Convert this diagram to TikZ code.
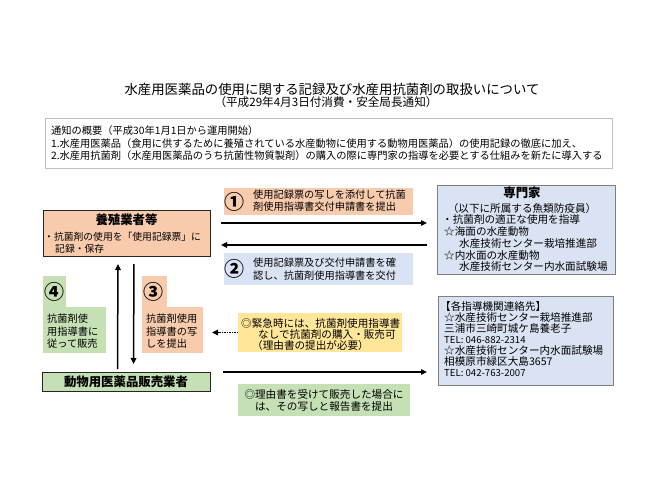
\documentclass[tikz,border=0pt]{standalone}
\usepackage{fontspec}
\setmainfont{Noto Sans CJK JP}
\usetikzlibrary{arrows.meta,calc}
\definecolor{orangeA}{HTML}{F8CBAD}
\definecolor{greenA}{HTML}{C5E0B4}
\definecolor{blueA}{HTML}{DAE3F3}
\definecolor{yellowA}{HTML}{FFE699}
\definecolor{grayA}{HTML}{7F7F7F}
\definecolor{grayB}{HTML}{BFBFBF}
\tikzset{
  txt/.style={font=\fontsize{10.2}{12.5}\selectfont, inner sep=0pt, anchor=west, align=left},
  txtb/.style={txt, font=\fontsize{10.6}{12}\selectfont},
  bx/.style={anchor=north west, inner sep=0pt, outer sep=0pt},
  numc/.style={font=\fontsize{20}{20}\selectfont\bfseries, inner sep=0pt},
  arr/.style={-{Triangle[length=6pt,width=5.5pt]}, line width=1.5pt},
  head/.style={font=\fontsize{12.4}{14}\selectfont\bfseries, inner sep=0pt},
}
\begin{document}
\begin{tikzpicture}[x={(1pt,0)}, y={(0,-1pt)}]
\useasboundingbox (0,0) rectangle (650,487);
\fill[white] (0,0) rectangle (650,487);

% title
\node[font=\fontsize{13.4}{16}\selectfont, inner sep=0pt] (title) at (332,89) {水産用医薬品の使用に関する記録及び水産用抗菌剤の取扱いについて};
\node[font=\fontsize{11.6}{14}\selectfont, inner sep=0pt] (sub) at (326,102) {（平成29年4月3日付消費・安全局長通知）};

% summary
\node[bx, draw=grayB, line width=0.8pt, minimum width=567, minimum height=50] (sum) at (45,118) {};
\node[txt, font=\fontsize{10.25}{12.5}\selectfont] (sumt) at (51,143.5) {通知の概要（平成30年1月1日から運用開始）\\1.水産用医薬品（食用に供するために養殖されている水産動物に使用する動物用医薬品）の使用記録の徹底に加え、\\2.水産用抗菌剤（水産用医薬品のうち抗菌性物質製剤）の購入の際に専門家の指導を必要とする仕組みを新たに導入する};

% 養殖業者等
\node[bx, draw=black!85, fill=orangeA, line width=0.8pt, minimum width=167, minimum height=46] (yo) at (43,210) {};
\node[head] (yoh) at (126.5,220) {養殖業者等};
\node[txt, font=\fontsize{9.8}{12}\selectfont] (yot1) at (44,237) {・抗菌剤の使用を「使用記録票」に};
\node[txt, font=\fontsize{9.8}{12}\selectfont] (yot2) at (55,248.5) {記録・保存};

% 専門家
\node[bx, draw=grayA, fill=blueA, line width=0.8pt, minimum width=178, minimum height=89] (sen) at (437,185) {};
\node[head] (senh) at (522,192.5) {専門家};
\node[txtb, anchor=center] (sen1) at (522,208) {（以下に所属する魚類防疫員）};
\node[txtb] (sen2) at (442,219.5) {・抗菌剤の適正な使用を指導};
\node[txtb] (sen3) at (444,231.3) {☆海面の水産動物};
\node[txtb] (sen4) at (459,243.2) {水産技術センター栽培推進部};
\node[txtb] (sen5) at (444,255) {☆内水面の水産動物};
\node[txtb] (sen6) at (459,266.5) {水産技術センター内水面試験場};

% box 1
\node[bx, fill=orangeA, minimum width=189, minimum height=27] (b1) at (224,188) {};
\node[numc] (n1) at (234,201.5) {①};
\node[txt] (t1) at (253,200.5) {使用記録票の写しを添付して抗菌\\剤使用指導書交付申請書を提出};

% box 2
\node[bx, fill=blueA, minimum width=189, minimum height=32] (b2) at (224,253) {};
\node[numc] (n2) at (234,269) {②};
\node[txt] (t2) at (253,269.3) {使用記録票及び交付申請書を確\\認し、抗菌剤使用指導書を交付};

% arrows 1,2
\coordinate (ya) at (0,223);
\coordinate (yb) at (0,245);
\draw[arr, shorten <=11pt, shorten >=10pt] (yo.east |- ya) -- (sen.west |- ya);
\draw[arr, shorten <=10pt, shorten >=11pt] (sen.west |- yb) -- (yo.east |- yb);

% 動物用医薬品販売業者
\node[bx, draw=black!85, fill=greenA, line width=0.8pt, minimum width=168, minimum height=19] (dou) at (42,372) {};
\node[head] (douh) at (126,382) {動物用医薬品販売業者};

% vertical arrows
\draw[arr, shorten <=3pt, shorten >=8pt] ([xshift=-8.5pt]dou.north) -- ([xshift=-8.5pt]yo.south);
\draw[arr, shorten <=8pt, shorten >=8pt] ([xshift=7.5pt]yo.south) -- ([xshift=7.5pt]dou.north);

% box 4
\node[bx, fill=greenA, minimum width=23, minimum height=32] (b4top) at (43,276) {};
\node[bx, fill=greenA, minimum width=63, minimum height=46] (b4) at (43,307) {};
\node[numc] (n4) at (54,292) {④};
\node[txt] (t4) at (47,331.5) {抗菌剤使\\用指導書に\\従って販売};

% box 3
\node[bx, fill=orangeA, minimum width=25, minimum height=32] (b3top) at (142,276) {};
\node[bx, fill=orangeA, minimum width=61, minimum height=46] (b3) at (142,307) {};
\node[numc] (n3) at (153,292) {③};
\node[txt] (t3) at (146,331.5) {抗菌剤使用\\指導書の写\\しを提出};

% emergency box
\node[bx, fill=yellowA, minimum width=164, minimum height=39] (em) at (238,313) {};
\node[txtb] (em1) at (241,323) {◎緊急時には、抗菌剤使用指導書};
\node[txtb] (em2) at (258,334.5) {なしで抗菌剤の購入・販売可};
\node[txtb] (em3) at (252,345.5) {（理由書の提出が必要）};
\draw[arr, densely dotted, shorten >=9pt] (em.west) -- (b3.east |- em.west);

% contact box
\node[bx, draw=grayA, fill=blueA, line width=0.8pt, minimum width=175, minimum height=89] (con) at (438,296) {};
\node[txt, font=\fontsize{10.6}{11.1}\selectfont] (cont) at (440,339) {【各指導機関連絡先】\\\hspace*{4pt}☆水産技術センター栽培推進部\\\hspace*{4pt}三浦市三崎町城ケ島養老子\\\hspace*{4pt}{\fontsize{9.6}{11.1}\selectfont TEL: 046-882-2314}\\\hspace*{4pt}☆水産技術センター内水面試験場\\\hspace*{4pt}相模原市緑区大島3657\\\hspace*{4pt}{\fontsize{9.6}{11.1}\selectfont TEL: 042-763-2007}};

% bottom arrow
\coordinate (yc) at (0,372);
\draw[arr, shorten <=13pt, shorten >=11pt] (dou.east |- yc) -- (con.west |- yc);

% report box
\node[bx, fill=greenA, minimum width=172, minimum height=32] (rep) at (238,384) {};
\node[txtb, anchor=center, align=center] (rept) at (rep.center) {◎理由書を受けて販売した場合に\\は、その写しと報告書を提出};

\end{tikzpicture}
\end{document}
